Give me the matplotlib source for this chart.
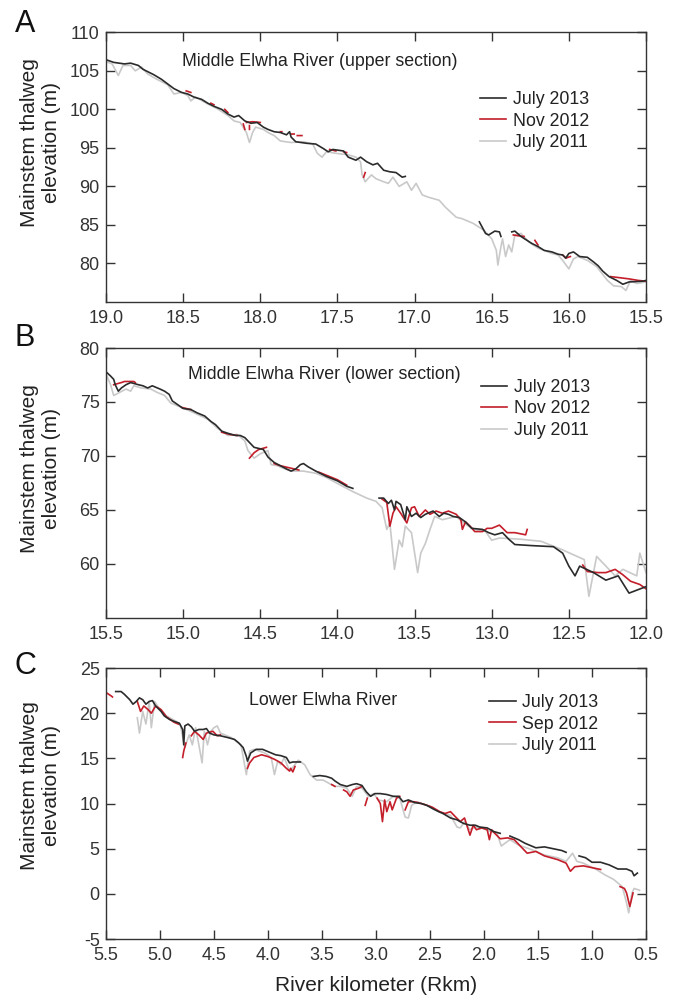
import numpy as np
import matplotlib
matplotlib.use("Agg")
import matplotlib.pyplot as plt

plt.rcParams["font.family"] = ["Liberation Sans", "DejaVu Sans"]
plt.rcParams["axes.unicode_minus"] = False

nan = np.nan

# ---- Panel A: Middle Elwha River (upper section) ----
a_jul2013 = [
    (19.0, 106.45), (18.95, 106.1), (18.88, 105.9), (18.84, 106.0), (18.79, 105.7), (18.76, 105.2),
    (18.73, 104.9), (18.69, 104.5), (18.64, 103.9), (18.6, 103.3), (18.56, 102.7), (18.51, 102.2),
    (18.47, 102.0), (18.43, 101.6), (18.38, 101.3), (18.34, 100.8), (18.3, 100.4), (18.25, 100.0),
    (18.21, 99.4), (18.17, 99.0), (18.14, 99.2), (18.1, 98.5), (18.06, 98.2), (18.02, 98.3),
    (17.98, 97.7), (17.95, 97.4), (17.91, 97.1), (17.87, 97.0), (17.83, 96.7), (17.81, 97.1),
    (17.8, 96.4), (17.77, 95.8), (17.7, 95.6), (17.64, 95.5), (17.59, 94.9), (17.56, 94.5),
    (17.53, 94.8), (17.46, 94.6), (17.43, 93.8), (17.38, 93.4), (17.35, 93.8), (17.31, 93.2),
    (17.27, 92.8), (17.24, 93.0), (17.2, 92.1), (17.16, 91.9), (17.12, 91.8), (17.08, 91.2),
    (17.06, 91.3), (nan, nan),
    (16.58, 85.4), (16.54, 83.9), (16.52, 83.7), (16.48, 84.2), (16.45, 84.1), (16.44, 83.5), (nan, nan),
    (16.37, 84.1), (16.35, 84.2), (16.31, 83.5), (16.24, 82.6), (16.2, 82.2), (16.16, 81.7),
    (16.11, 81.5), (16.07, 81.2), (16.04, 81.1), (16.02, 80.7), (16.0, 81.3), (15.97, 81.5),
    (15.93, 80.9), (15.88, 80.8), (15.84, 80.2), (15.81, 79.7), (15.78, 79.0), (15.74, 78.3),
    (15.69, 77.8), (15.65, 77.3), (15.61, 77.6), (15.52, 77.7), (15.5, 77.8),
]
a_nov2012 = [
    (18.48, 102.4), (18.45, 102.2), (nan, nan), (18.32, 100.8), (18.3, 100.6), (nan, nan),
    (18.23, 100.0), (18.21, 99.6), (nan, nan), (18.11, 98.1), (18.1, 97.4), (nan, nan),
    (18.09, 98.3), (18.05, 98.4), (18.0, 98.3), (nan, nan), (18.07, 97.9), (18.07, 97.4), (nan, nan),
    (17.87, 97.1), (17.86, 97.1), (nan, nan), (17.8, 96.8), (17.78, 96.8), (nan, nan),
    (17.76, 96.6), (17.73, 96.6), (nan, nan), (17.55, 94.8), (17.51, 94.6), (nan, nan),
    (17.46, 94.5), (17.44, 94.4), (nan, nan), (17.33, 91.2), (17.32, 91.8), (nan, nan),
    (16.36, 83.7), (16.33, 83.6), (16.29, 83.5), (nan, nan), (16.22, 83.0), (16.2, 82.4), (nan, nan),
    (16.04, 81.1), (16.02, 80.7), (15.99, 80.9), (nan, nan),
    (15.73, 78.3), (15.69, 78.2), (15.61, 78.0), (15.55, 77.8), (15.5, 77.7),
]
a_jul2011 = [
    (19.0, 106.2), (18.96, 105.9), (18.92, 104.4), (18.89, 105.7), (18.84, 105.7), (18.81, 105.0),
    (18.77, 105.5), (18.73, 104.6), (18.67, 103.9), (18.6, 103.2), (18.56, 102.0), (18.51, 102.2),
    (18.47, 101.8), (18.45, 101.1), (18.42, 101.6), (18.34, 100.7), (18.28, 100.1), (18.21, 99.2),
    (18.17, 98.5), (18.13, 98.3), (18.09, 97.0), (18.07, 95.7), (18.05, 97.0), (18.03, 97.7),
    (17.98, 97.4), (17.95, 97.0), (17.91, 96.6), (17.87, 95.9), (17.8, 95.7), (17.72, 95.8),
    (17.66, 95.5), (17.63, 94.3), (17.6, 93.8), (17.57, 94.5), (17.51, 94.3), (17.43, 94.1),
    (17.38, 93.8), (17.35, 93.2), (17.34, 91.5), (17.32, 90.6), (17.28, 91.5), (17.25, 91.0),
    (17.2, 90.6), (17.17, 90.4), (17.14, 91.2), (17.1, 90.0), (17.05, 90.6), (17.02, 89.5),
    (16.99, 90.4), (16.95, 88.9), (16.91, 88.6), (16.84, 88.2), (16.8, 87.3), (16.73, 86.0),
    (16.69, 85.8), (16.62, 85.2), (16.55, 84.3), (16.5, 83.2), (16.47, 81.7), (16.46, 79.8),
    (16.44, 82.2), (16.43, 83.2), (16.41, 80.9), (16.39, 82.4), (16.37, 81.5), (16.35, 83.7),
    (16.31, 83.9), (16.26, 82.8), (16.2, 82.0), (16.11, 81.3), (16.07, 81.1), (16.04, 80.4),
    (16.0, 79.3), (15.97, 80.6), (15.94, 80.9), (15.88, 80.4), (15.82, 79.6), (15.75, 77.8),
    (15.71, 77.1), (15.66, 77.0), (15.63, 76.5), (15.6, 77.8), (15.56, 77.4), (15.5, 77.6),
]

# ---- Panel B: Middle Elwha River (lower section) ----
b_jul2013 = [
    (15.5, 77.8), (15.47, 77.4), (15.45, 77.1), (15.44, 76.6), (15.42, 76.0), (15.4, 76.3),
    (15.37, 76.6), (15.34, 76.8), (15.29, 76.6), (15.26, 76.5), (15.23, 76.3), (15.2, 76.5),
    (15.15, 76.2), (15.12, 76.0), (15.09, 75.7), (15.07, 75.1), (15.04, 74.8), (15.0, 74.4),
    (14.95, 74.3), (14.91, 74.0), (14.86, 73.7), (14.82, 73.2), (14.79, 72.9), (14.75, 72.3),
    (14.71, 72.1), (14.66, 71.9), (14.63, 71.9), (14.6, 71.7), (14.58, 71.4), (14.54, 70.8),
    (14.48, 70.6), (14.45, 69.9), (14.41, 69.4), (14.37, 69.1), (14.33, 68.8), (14.3, 68.6),
    (14.27, 68.8), (14.24, 69.2), (14.22, 69.3), (14.19, 69.0), (14.14, 68.6), (14.07, 68.1),
    (14.0, 67.7), (13.94, 67.2), (13.9, 67.0), (nan, nan),
    (13.73, 66.1), (13.7, 66.1), (13.67, 65.6), (13.65, 65.9), (13.63, 65.0), (13.62, 65.8),
    (13.59, 65.5), (13.56, 64.1), (13.55, 65.3), (13.52, 64.4), (13.49, 64.7), (13.46, 64.3),
    (13.43, 64.6), (13.38, 64.9), (13.34, 64.4), (13.31, 64.7), (13.28, 64.6), (13.25, 64.4),
    (13.21, 64.3), (13.17, 63.9), (13.13, 63.3), (13.06, 63.2), (13.02, 62.9), (12.98, 62.7),
    (12.93, 62.9), (12.89, 62.3), (12.85, 61.8), (12.74, 61.7), (12.6, 61.6), (12.54, 61.0),
    (12.5, 59.8), (12.46, 58.9), (12.43, 59.8), (12.34, 59.2), (12.26, 58.5), (12.18, 58.9),
    (12.11, 57.3), (12.0, 57.9),
]
b_nov2012 = [
    (15.45, 76.6), (15.4, 76.8), (15.38, 76.9), (15.32, 76.9), (15.31, 76.8), (nan, nan),
    (15.01, 74.5), (14.95, 74.3), (nan, nan),
    (14.75, 72.2), (14.7, 72.0), (14.65, 71.9), (nan, nan),
    (14.57, 69.8), (14.54, 70.3), (14.51, 70.6), (14.46, 70.8), (nan, nan),
    (14.41, 69.3), (14.37, 69.1), (14.31, 68.9), (14.25, 68.7), (nan, nan),
    (14.12, 68.5), (14.0, 67.8), (13.94, 67.3), (nan, nan),
    (13.71, 66.0), (13.68, 65.7), (13.66, 63.5), (13.64, 64.7), (13.62, 65.3), (13.59, 64.7),
    (13.55, 63.8), (13.52, 65.2), (13.5, 65.3), (13.47, 64.4), (13.43, 65.0), (13.4, 64.6),
    (13.36, 64.9), (13.32, 64.7), (13.28, 64.9), (13.23, 64.6), (13.2, 64.1), (13.19, 63.2),
    (13.17, 63.9), (13.14, 63.5), (13.11, 63.0), (13.06, 63.0), (13.03, 63.3), (13.0, 63.3),
    (12.95, 63.6), (12.9, 62.9), (12.85, 62.9), (12.78, 62.7), (12.77, 63.2), (nan, nan),
    (12.41, 59.9), (12.38, 59.3), (12.31, 59.2), (12.26, 59.2), (12.2, 59.5), (12.15, 59.0),
    (12.1, 58.4), (12.04, 58.1), (12.0, 57.7),
]
b_jul2011 = [
    (15.5, 77.6), (15.47, 76.6), (15.45, 75.6), (15.41, 75.9), (15.37, 76.2), (15.34, 76.0),
    (15.32, 76.5), (15.27, 76.3), (15.21, 76.2), (15.17, 75.9), (15.12, 75.6), (15.08, 74.9),
    (15.01, 74.5), (14.93, 74.0), (14.84, 73.4), (14.78, 72.6), (14.71, 71.9), (14.65, 72.0),
    (14.6, 71.4), (14.58, 70.5), (14.54, 69.8), (14.5, 70.2), (14.45, 70.5), (14.43, 69.2),
    (14.39, 69.1), (14.34, 68.8), (14.3, 68.6), (14.22, 68.6), (14.14, 68.4), (14.07, 68.0),
    (13.98, 67.3), (13.9, 66.7), (13.81, 66.1), (13.75, 65.8), (13.71, 65.2), (13.68, 63.2),
    (13.66, 63.8), (13.63, 59.5), (13.6, 62.2), (13.58, 61.6), (13.56, 63.5), (13.52, 62.9),
    (13.48, 59.2), (13.46, 61.0), (13.43, 61.9), (13.4, 63.2), (13.37, 64.4), (13.32, 64.1),
    (13.23, 64.4), (13.19, 63.9), (13.15, 63.5), (13.11, 63.2), (13.04, 63.0), (13.0, 62.2),
    (12.95, 62.4), (12.82, 62.3), (12.68, 62.1), (12.54, 61.3), (12.4, 60.4), (12.37, 57.0),
    (12.32, 60.7), (12.2, 58.9), (12.15, 59.5), (12.06, 58.9), (12.04, 61.0), (12.0, 59.2),
]

# ---- Panel C: Lower Elwha River ----
c_jul2013 = [
    (5.41, 22.4), (5.36, 22.4), (5.33, 22.1), (5.28, 21.5), (5.25, 21.0), (5.22, 21.3), (5.19, 21.7),
    (5.16, 21.5), (5.13, 21.0), (5.1, 21.3), (5.07, 21.4), (5.04, 20.8), (4.99, 20.2), (4.96, 19.7),
    (4.91, 19.3), (4.87, 19.1), (4.82, 18.9), (4.79, 18.2), (4.78, 16.5), (4.77, 18.6), (4.74, 18.8),
    (4.71, 18.5), (4.68, 18.0), (4.64, 18.2), (4.6, 18.2), (4.57, 18.3), (4.54, 17.8), (4.5, 17.6),
    (4.44, 17.5), (4.37, 17.3), (4.31, 17.1), (4.27, 16.7), (4.23, 16.2), (4.2, 15.2), (4.19, 14.7),
    (4.16, 15.6), (4.11, 16.0), (4.05, 16.0), (3.99, 15.7), (3.93, 15.4), (3.88, 15.3), (3.83, 15.1),
    (3.8, 14.5), (3.77, 14.6), (3.73, 14.6), (3.7, 14.6), (nan, nan),
    (3.58, 13.0), (3.52, 13.1), (3.46, 13.0), (3.41, 12.8), (3.38, 12.5), (3.33, 12.1), (3.27, 11.9),
    (3.22, 12.1), (3.18, 12.2), (3.13, 12.0), (3.09, 11.3), (3.05, 10.8), (3.01, 11.1), (2.96, 11.1),
    (2.9, 11.0), (2.84, 10.8), (2.79, 10.8), (2.75, 10.2), (2.7, 10.4), (2.64, 10.1), (2.58, 10.0),
    (2.53, 9.8), (2.47, 9.4), (2.42, 9.1), (2.38, 8.9), (2.31, 8.4), (2.25, 8.2), (2.19, 7.8),
    (2.13, 7.6), (2.08, 7.6), (2.04, 7.4), (1.97, 7.3), (1.91, 6.9), (1.85, 6.7), (nan, nan),
    (1.76, 6.4), (1.68, 6.0), (1.62, 5.6), (1.52, 5.1), (1.44, 5.2), (1.36, 5.0), (1.28, 4.8),
    (1.24, 4.6), (nan, nan),
    (1.12, 4.2), (1.06, 4.0), (1.0, 3.5), (0.92, 3.5), (0.84, 3.2), (0.76, 2.75), (0.68, 2.75),
    (0.63, 2.5), (0.61, 2.0), (0.58, 2.3),
]
c_sep2012 = [
    (5.5, 22.3), (5.45, 21.9), (5.44, 21.8), (nan, nan),
    (5.21, 21.3), (5.18, 20.2), (5.15, 20.8), (5.11, 20.4), (5.08, 20.0), (5.04, 20.8), (4.99, 20.4),
    (4.94, 19.6), (4.87, 19.0), (4.83, 18.8), (nan, nan),
    (4.79, 15.1), (4.78, 15.8), (4.76, 16.7), (nan, nan),
    (4.71, 17.5), (4.68, 18.0), (4.64, 17.6), (4.6, 17.1), (4.57, 17.8), (4.51, 18.0), (4.47, 17.5),
    (4.44, 17.6), (nan, nan),
    (4.19, 13.9), (4.17, 14.5), (4.13, 15.1), (4.06, 15.4), (4.0, 15.2), (3.94, 14.9), (3.88, 14.5),
    (3.83, 13.9), (3.8, 13.6), (3.79, 13.9), (3.77, 13.5), (3.75, 14.1), (nan, nan),
    (3.41, 12.1), (3.38, 11.9), (nan, nan),
    (3.3, 11.5), (3.27, 11.3), (3.24, 10.8), (3.21, 11.5), (3.16, 11.7), (3.13, 11.9), (nan, nan),
    (3.1, 9.8), (3.08, 10.6), (nan, nan),
    (2.99, 10.6), (2.96, 10.0), (2.94, 8.0), (2.92, 10.4), (2.9, 9.1), (2.87, 10.2), (2.85, 9.3),
    (2.81, 10.6), (2.78, 10.8), (nan, nan),
    (2.73, 9.3), (2.7, 10.2), (2.65, 10.2), (2.61, 10.1), (2.55, 9.9), (2.48, 9.6), (2.41, 9.1),
    (2.36, 8.9), (2.31, 9.1), (2.27, 8.6), (2.22, 8.0), (2.18, 8.4), (2.13, 6.5), (2.1, 7.6),
    (2.07, 7.1), (2.02, 7.3), (1.97, 7.1), (1.95, 6.0), (1.93, 7.1), (1.9, 6.7), (1.85, 6.1),
    (1.78, 6.2), (1.72, 6.0), (1.6, 4.5), (1.52, 4.7), (1.44, 4.2), (1.32, 3.8), (1.24, 3.4),
    (1.2, 2.5), (1.16, 3.0), (1.08, 3.1), (1.0, 2.9), (0.92, 2.7), (nan, nan),
    (0.74, 0.8), (0.7, 0.6), (0.68, 0.1), (0.65, -1.4), (0.62, 0.1),
]
c_jul2011 = [
    (5.21, 19.5), (5.19, 17.8), (5.16, 20.2), (5.13, 18.8), (5.1, 21.3), (5.08, 18.4), (5.05, 21.3),
    (5.01, 20.6), (4.94, 19.7), (4.85, 19.1), (4.81, 18.6), (4.77, 16.2), (4.73, 17.6), (4.7, 16.5),
    (4.67, 18.4), (4.64, 16.5), (4.61, 14.5), (4.59, 18.0), (4.56, 16.5), (4.53, 18.0), (4.5, 18.4),
    (4.47, 18.6), (4.44, 17.8), (4.34, 17.3), (4.25, 16.5), (4.2, 13.2), (4.17, 15.8), (4.13, 16.0),
    (4.03, 15.6), (3.97, 15.1), (3.94, 13.2), (3.91, 14.7), (3.88, 14.3), (3.85, 15.1), (3.8, 13.6),
    (3.77, 14.0), (3.72, 14.8), (3.66, 14.3), (3.61, 13.2), (3.55, 12.6), (3.49, 12.6), (3.43, 12.2),
    (3.38, 11.9), (3.33, 11.9), (3.27, 11.7), (3.22, 10.8), (3.18, 11.9), (3.13, 11.7), (3.07, 10.8),
    (3.02, 11.1), (2.98, 10.4), (2.9, 10.2), (2.84, 10.8), (2.78, 10.6), (2.73, 8.5), (2.7, 8.4),
    (2.67, 9.8), (2.62, 10.2), (2.56, 9.9), (2.5, 9.7), (2.44, 9.3), (2.38, 8.9), (2.31, 8.7),
    (2.25, 7.4), (2.22, 7.3), (2.18, 8.0), (2.13, 7.1), (2.08, 7.4), (2.02, 7.3), (1.94, 6.9),
    (1.88, 6.7), (1.84, 5.3), (1.76, 6.0), (1.68, 5.4), (1.56, 4.9), (1.44, 4.3), (1.32, 4.0),
    (1.24, 3.6), (1.18, 4.5), (1.14, 3.6), (1.08, 3.4), (0.96, 2.7), (0.88, 2.1), (0.8, 1.6),
    (0.72, 0.8), (0.68, -1.0), (0.66, -2.1), (0.63, 0.1), (0.61, 0.6), (0.56, 0.4),
]

panels = [
    dict(letter="A", title="Middle Elwha River (upper section)", xlim=(19.0, 15.5), ylim=(75, 110),
         yticks=range(80, 111, 5), series=[a_jul2011, a_nov2012, a_jul2013],
         labels=["July 2011", "Nov 2012", "July 2013"]),
    dict(letter="B", title="Middle Elwha River (lower section)", xlim=(15.5, 12.0), ylim=(55, 80),
         yticks=range(60, 81, 5), series=[b_jul2011, b_nov2012, b_jul2013],
         labels=["July 2011", "Nov 2012", "July 2013"]),
    dict(letter="C", title="Lower Elwha River", xlim=(5.5, 0.5), ylim=(-5, 25),
         yticks=range(-5, 26, 5), series=[c_jul2011, c_sep2012, c_jul2013],
         labels=["July 2011", "Sep 2012", "July 2013"]),
]

colors = ["#c9c9c9", "#c41e2a", "#2b2b2b"]
ink = "#333333"

# layout (figure fractions)
ax_rects = [
    [0.1563, 0.6974, 0.7965, 0.2702],
    [0.1563, 0.3808, 0.7965, 0.2705],
    [0.1563, 0.0591, 0.7965, 0.2715],
]
letter_y = [0.968, 0.6533, 0.3246]
ylabel_y = [0.593, 0.552, 0.565]
title_xy = [(0.14, 0.893), (0.152, 0.90), (0.265, 0.882)]
legend_xy = [(0.692, 0.782), (0.694, 0.885), (0.71, 0.904)]

fig = plt.figure(figsize=(6.78, 9.98), dpi=100)

for i, p in enumerate(panels):
    ax = fig.add_axes(ax_rects[i])
    handles = []
    for data, col, lab in zip(p["series"], colors, p["labels"]):
        arr = np.array(data, dtype=float)
        h, = ax.plot(arr[:, 0], arr[:, 1], color=col, lw=1.2, label=lab)
        handles.append(h)

    ax.set_xlim(*p["xlim"])
    ax.set_ylim(*p["ylim"])
    x0, x1 = p["xlim"]
    ax.set_xticks(np.arange(x1, x0 + 0.01, 0.5))
    ax.xaxis.set_major_formatter(matplotlib.ticker.FormatStrFormatter("%.1f"))
    ax.set_yticks(list(p["yticks"]))

    ax.tick_params(direction="in", top=True, right=True, length=6.5, width=1.0,
                   color=ink, labelcolor=ink, labelsize=13)
    ax.tick_params(axis="x", pad=6.0)
    ax.tick_params(axis="y", pad=4.5)
    for sp in ax.spines.values():
        sp.set_color(ink)
        sp.set_linewidth(1.0)

    ax.set_ylabel("Mainstem thalweg\nelevation (m)", fontsize=15, color="#222222", linespacing=1.15)
    ax.yaxis.set_label_coords(-0.084, ylabel_y[i])

    ax.text(title_xy[i][0], title_xy[i][1], p["title"], transform=ax.transAxes,
            fontsize=12.8, color="#222222", va="center", ha="left")

    # legend order: July 2013, then 2012, then 2011
    ax.legend(handles[::-1], [h.get_label() for h in handles[::-1]], loc="upper left",
              bbox_to_anchor=legend_xy[i], frameon=False, fontsize=12.8,
              handlelength=1.5, handletextpad=0.35, borderpad=0, borderaxespad=0,
              labelspacing=0.25, labelcolor="#222222")

    fig.text(0.022, letter_y[i], p["letter"], fontsize=22, color="#111111", va="baseline", ha="left")

    if i == 2:
        ax.set_xlabel("River kilometer (Rkm)", fontsize=15, color="#222222")
        ax.xaxis.set_label_coords(0.5, -0.137)

fig.savefig("out.png", dpi=100)
